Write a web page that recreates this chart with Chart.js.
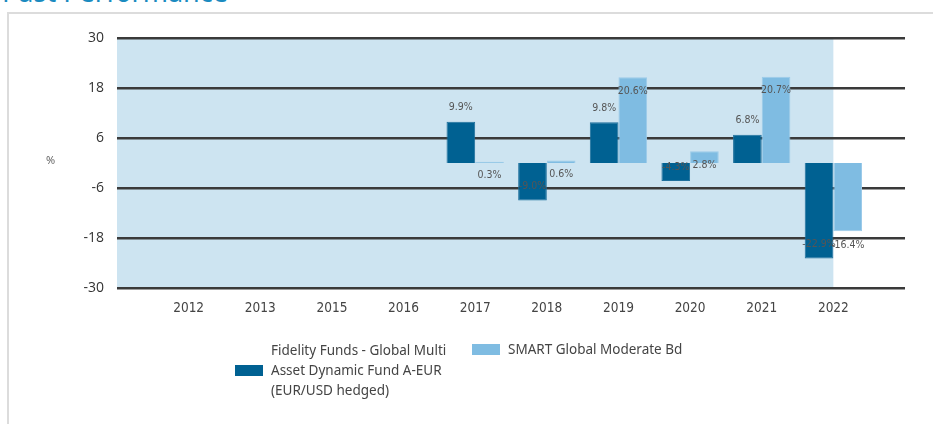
<!DOCTYPE html>
<html>
<head>
<meta charset="utf-8">
<script src="https://cdn.jsdelivr.net/npm/chart.js@4"></script>
<style>
  html, body { margin: 0; padding: 0; background: #fff; }
  body { width: 933px; height: 424px; position: relative; overflow: hidden; font-family: 'Noto Sans', sans-serif; }
  .title { position: absolute; left: 2px; top: -27px; font-size: 27px; color: #1b8bc0; white-space: nowrap; }
  .frame { position: absolute; left: 7px; top: 12px; right: -5px; bottom: -5px;
           border-top: 2px solid #dcdcdc; border-left: 2px solid #dcdcdc; }
  #wrap { position: absolute; left: 0; top: 0; width: 933px; height: 424px; }
  .ylab { position: absolute; left: 46px; top: 152px; font-size: 11px; color: #666; }
  .leg { position: absolute; display: flex; align-items: center; color: #444; font-size: 13.5px; line-height: 20px; }
  .sw { width: 28px; height: 11px; margin-right: 8px; flex-shrink: 0; }
</style>
</head>
<body>
<div class="title">Past Performance</div>
<div class="frame"></div>
<div id="wrap"><canvas id="c"></canvas></div>
<div class="ylab">%</div>
<div class="leg" style="left:235px; top:340px;">
  <span class="sw" style="background:#006192"></span>
  <span>Fidelity Funds - Global Multi<br>Asset Dynamic Fund A-EUR<br>(EUR/USD hedged)</span>
</div>
<div class="leg" style="left:472px; top:339px;">
  <span class="sw" style="background:#7fbce2"></span>
  <span>SMART Global Moderate Bd</span>
</div>
<script>
/* ── DATA ─────────────────────────────────────────────── */
const YEARS   = ['', '2012', '2013', '2015', '2016', '2017', '2018', '2019', '2020', '2021', '2022', ''];
const FUND    = [null, null, null, null, null, 9.9, -9.0, 9.8, -4.3, 6.8, -22.9, null];
const INDEX   = [null, null, null, null, null, 0.3,  0.6, 20.6,  2.8, 20.7, -16.4, null];
const Y_TICKS = [-30, -18, -6, 6, 18, 30];
const SHADE_END = 10;   /* shading runs to the centre of 2022 */

const DARK  = '#006192';
const LIGHT = '#7fbce2';

/* ── PLUGINS ──────────────────────────────────────────── */
const shade = {
  id: 'shade',
  beforeDraw(chart) {
    const { ctx, chartArea, scales } = chart;
    const x0 = chartArea.left;
    const x1 = scales.x.getPixelForValue(SHADE_END);
    ctx.save();
    ctx.fillStyle = '#cde4f1';
    ctx.fillRect(x0, chartArea.top, x1 - x0, chartArea.bottom - chartArea.top);
    ctx.restore();
  }
};

const valueLabels = {
  id: 'valueLabels',
  afterDatasetsDraw(chart) {
    const ctx = chart.ctx;
    ctx.save();
    ctx.font = '10.5px "DejaVu Sans Condensed", "DejaVu Sans", sans-serif';
    ctx.fillStyle = '#555';
    ctx.textAlign = 'center';
    ctx.textBaseline = 'middle';
    chart.data.datasets.forEach((ds, di) => {
      const meta = chart.getDatasetMeta(di);
      meta.data.forEach((bar, i) => {
        const v = ds.data[i];
        if (v === null) return;
        const dy = di === 0 ? -14 : 14;
        ctx.fillText(v.toFixed(1) + '%', bar.x, bar.y + dy);
      });
    });
    ctx.restore();
  }
};

/* ── CHART ────────────────────────────────────────────── */
new Chart(document.getElementById('c'), {
  type: 'bar',
  data: {
    labels: YEARS,
    datasets: [
      { label: 'Fidelity Funds - Global Multi Asset Dynamic Fund A-EUR (EUR/USD hedged)',
        data: FUND, backgroundColor: DARK, borderColor: '#1e6f9c', borderWidth: 1 },
      { label: 'SMART Global Moderate Bd',
        data: INDEX, backgroundColor: LIGHT, borderColor: '#9ccbe9', borderWidth: 1 }
    ]
  },
  options: {
    responsive: true,
    maintainAspectRatio: false,
    animation: false,
    layout: { padding: { left: 0, top: 38, right: 28, bottom: 106 } },
    datasets: { bar: { categoryPercentage: 0.8, barPercentage: 1.0 } },
    plugins: { legend: { display: false }, tooltip: { enabled: false } },
    scales: {
      x: {
        offset: false,
        grid: { display: false },
        border: { display: false },
        afterFit: s => { s.height = 30; },
        ticks: {
          autoSkip: false, maxRotation: 0, padding: 4,
          color: '#444',
          font: { size: 13.5, family: '"DejaVu Sans Condensed", "DejaVu Sans", sans-serif' }
        }
      },
      y: {
        min: -30, max: 30,
        afterFit: s => { s.width = 117; },
        afterBuildTicks: s => { s.ticks = Y_TICKS.map(v => ({ value: v })); },
        grid: { color: '#3a3a3a', lineWidth: 2.5, drawTicks: false },
        border: { display: false },
        ticks: {
          padding: 13,
          color: '#333',
          font: { size: 14, family: '"Open Sans", sans-serif' }
        }
      }
    }
  },
  plugins: [shade, valueLabels]
});
</script>
</body>
</html>
